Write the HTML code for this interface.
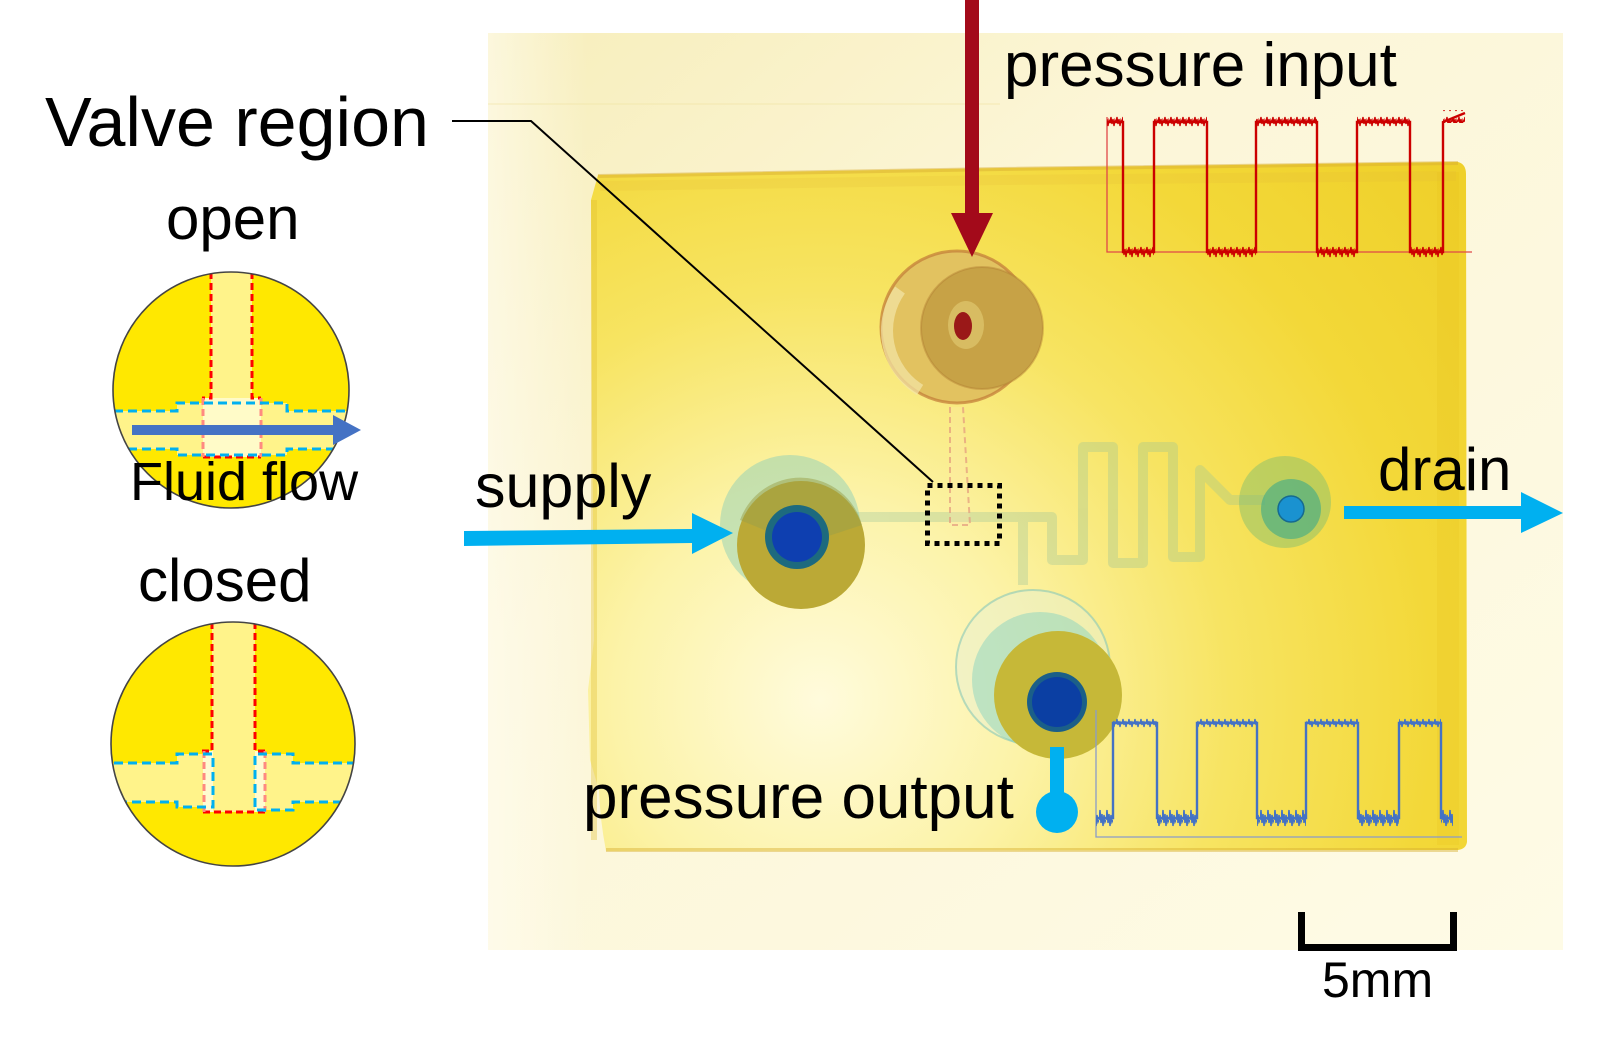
<!DOCTYPE html>
<html>
<head>
<meta charset="utf-8">
<style>
  html,body{margin:0;padding:0;background:#fff;}
  svg{display:block;}
  text{font-family:"Liberation Sans", "DejaVu Sans", sans-serif; fill:#000;}
</style>
</head>
<body>
<svg width="1606" height="1045" viewBox="0 0 1606 1045" xmlns="http://www.w3.org/2000/svg">
  <defs>
    <linearGradient id="bg" x1="0" y1="0" x2="1" y2="1">
      <stop offset="0" stop-color="#f7eebb"/>
      <stop offset="0.35" stop-color="#fcf6d8"/>
      <stop offset="1" stop-color="#fefbe6"/>
    </linearGradient>
    <linearGradient id="bgl" x1="0" y1="0" x2="1" y2="0">
      <stop offset="0" stop-color="#fffdf3" stop-opacity="0.6"/>
      <stop offset="1" stop-color="#fffdf3" stop-opacity="0"/>
    </linearGradient>
    <radialGradient id="chip" cx="820" cy="700" r="820" gradientUnits="userSpaceOnUse">
      <stop offset="0" stop-color="#fffbdc"/>
      <stop offset="0.25" stop-color="#fcf3a8"/>
      <stop offset="0.5" stop-color="#f7e462"/>
      <stop offset="0.75" stop-color="#f3d838"/>
      <stop offset="1" stop-color="#efd02a"/>
    </radialGradient>
    <clipPath id="c1"><circle cx="231" cy="390" r="118"/></clipPath>
    <clipPath id="c2"><circle cx="233" cy="744" r="122"/></clipPath>
    <pattern id="nbL" x="0" y="806" width="7" height="22" patternUnits="userSpaceOnUse">
      <polyline points="0,14 1,4 2,17 3,8 4,20 5,9 6,16 7,14" fill="none" stroke="#4472c4" stroke-width="1.5"/>
    </pattern>
    <pattern id="nbH" x="0" y="716" width="6" height="14" patternUnits="userSpaceOnUse">
      <polyline points="0,7 1,3 2,9 3,5 4,11 5,6 6,7" fill="none" stroke="#4472c4" stroke-width="1.3"/>
    </pattern>
    <pattern id="nrH" x="0" y="114" width="6" height="15" patternUnits="userSpaceOnUse">
      <polyline points="0,8 1,3 2,10 3,5 4,12 5,6 6,8" fill="none" stroke="#cc0000" stroke-width="1.3"/>
    </pattern>
    <pattern id="nrL" x="0" y="245" width="6" height="14" patternUnits="userSpaceOnUse">
      <polyline points="0,7 1,2 2,10 3,4 4,12 5,5 6,7" fill="none" stroke="#cc0000" stroke-width="1.3"/>
    </pattern>
  </defs>

  <!-- ============ LEFT PANEL ============ -->
  <text x="45" y="146" font-size="70">Valve region</text>

  <text x="166" y="239" font-size="60">open</text>

  <!-- open circle -->
  <circle cx="231" cy="390" r="118" fill="#ffe800"/>
  <g clip-path="url(#c1)">
    <rect x="211" y="260" width="41" height="140" fill="#fff38a"/>
    <polygon points="100,411 177,411 177,403 287,403 287,411 360,411 360,449 287,449 287,455 177,455 177,449 100,449" fill="#fff38a"/>
    <rect x="203" y="398" width="58" height="59" fill="#fffbc8"/>
    <path d="M211 272 V398 H202 M252 272 V398 H261" fill="none" stroke="#ff0000" stroke-width="3" stroke-dasharray="7 4"/>
    <path d="M203 457 H261" fill="none" stroke="#ff0000" stroke-width="3" stroke-dasharray="7 4"/>
    <path d="M203 398 V457 M261 398 V457" fill="none" stroke="#ff8a80" stroke-width="3" stroke-dasharray="7 4"/>
    <path d="M100 411 H177 V403 H287 V411 H360 M100 449 H177 V455 H287 V449 H360" fill="none" stroke="#00b0f0" stroke-width="3" stroke-dasharray="9 5"/>
  </g>
  <circle cx="231" cy="390" r="118" fill="none" stroke="#444" stroke-width="1.6"/>
  <rect x="132" y="425" width="202" height="10" fill="#4472c4"/>
  <polygon points="333,415 361,430 333,445" fill="#4472c4"/>
  <text x="130" y="500" font-size="54">Fluid flow</text>

  <text x="138" y="601" font-size="60">closed</text>

  <!-- closed circle -->
  <circle cx="233" cy="744" r="122" fill="#ffe800"/>
  <g clip-path="url(#c2)">
    <rect x="212" y="610" width="43" height="202" fill="#fff38a"/>
    <polygon points="100,763 177,763 177,754 213,754 213,807 177,807 177,802 100,802" fill="#fff38a"/>
    <polygon points="255,754 293,754 293,763 370,763 370,802 293,802 293,810 255,810" fill="#fff38a"/>
    <rect x="203" y="751" width="10" height="61" fill="#fffbd0"/>
    <rect x="255" y="751" width="10" height="61" fill="#fffbd0"/>
    <path d="M212 622 V751 H202 M255 622 V751 H265" fill="none" stroke="#ff0000" stroke-width="3" stroke-dasharray="7 4"/>
    <path d="M203 812 H265" fill="none" stroke="#ff0000" stroke-width="3" stroke-dasharray="7 4"/>
    <path d="M204 751 V812 M265 751 V812" fill="none" stroke="#ff8a80" stroke-width="3" stroke-dasharray="7 4"/>
    <path d="M100 763 H177 V754 H213 V807 H177 V802 H100" fill="none" stroke="#00b0f0" stroke-width="3" stroke-dasharray="9 5"/>
    <path d="M370 763 H293 V754 H255 V810 H293 V802 H370" fill="none" stroke="#00b0f0" stroke-width="3" stroke-dasharray="9 5"/>
  </g>
  <circle cx="233" cy="744" r="122" fill="none" stroke="#444" stroke-width="1.6"/>

  <!-- ============ PHOTO ============ -->
  <rect x="488" y="33" width="1075" height="917" fill="url(#bg)"/>
  <rect x="488" y="33" width="100" height="917" fill="url(#bgl)"/>
  <path d="M488 104 H1000" stroke="#efe2a0" stroke-width="1.5" opacity="0.4"/>

  <!-- chip -->
  <path d="M598 175 L1000 168 L1458 162 Q1466 164 1466 174 L1467 842 Q1466 849 1458 850 L606 851 Q600 820 599 790 L590 760 L588 690 L594 640 L592 420 L591 200 Z" fill="url(#chip)"/>
  <path d="M598 176 L1000 169 L1458 163" fill="none" stroke="#d6aa30" stroke-width="4" opacity="0.45"/>
  <path d="M600 186 L1000 180 L1456 176" fill="none" stroke="#e2b838" stroke-width="10" opacity="0.18"/>
  <path d="M1448 172 V845" fill="none" stroke="#e6bf1a" stroke-width="22" opacity="0.2"/>
  <path d="M606 850 H1458" fill="none" stroke="#d8b030" stroke-width="4" opacity="0.45"/>
  <path d="M594 200 V840" fill="none" stroke="#e0be30" stroke-width="6" opacity="0.35"/>

  <!-- channels -->
  <g fill="none" stroke="#8fbf9a" stroke-width="10" opacity="0.3" stroke-linejoin="round">
    <path d="M850 517 H1023 V585"/>
    <path d="M1023 517 H1052 V560 H1083 V447 H1113 V563 H1143 V447 H1173 V557 H1200 V470 L1230 500 H1265"/>
  </g>
  <path d="M950 407 V525 H970 L963 407" fill="#fbe4b0" fill-opacity="0.35" stroke="#e49a80" stroke-width="2" stroke-dasharray="6 4" opacity="0.7"/>

  <!-- pressure input port -->
  <circle cx="957" cy="327" r="76" fill="#e2c260" stroke="#c27a38" stroke-width="3" stroke-opacity="0.7"/>
  <path d="M900 290 A70 70 0 0 0 920 390" fill="none" stroke="#f4e6a8" stroke-width="12" opacity="0.7"/>
  <circle cx="982" cy="328" r="61" fill="#c7a246" stroke="#b07a30" stroke-width="2" stroke-opacity="0.4"/>
  <ellipse cx="966" cy="325" rx="18" ry="24" fill="#d8bc62"/>
  <ellipse cx="963" cy="326" rx="9" ry="14" fill="#9a1818"/>

  <!-- supply port -->
  <circle cx="790" cy="525" r="70" fill="#8fcfb8" fill-opacity="0.5"/>
  <circle cx="801" cy="545" r="64" fill="#bba936"/>
  <path d="M740 520 A64 64 0 0 1 862 525 L801 545 Z" fill="#9aa048" opacity="0.5"/>
  <circle cx="797" cy="537" r="32" fill="#1d6a7e"/>
  <circle cx="797" cy="537" r="25" fill="#0e3fb0"/>

  <!-- output port -->
  <circle cx="1033" cy="667" r="77" fill="#e8f0d0" fill-opacity="0.5" stroke="#88c8b8" stroke-width="2" stroke-opacity="0.6"/>
  <circle cx="1040" cy="680" r="68" fill="#7fd0c0" fill-opacity="0.45"/>
  <circle cx="1058" cy="695" r="64" fill="#c6b838"/>
  <circle cx="1057" cy="702" r="30" fill="#1b5f88"/>
  <circle cx="1057" cy="702" r="25" fill="#0b3fa3"/>

  <!-- drain port -->
  <circle cx="1285" cy="502" r="46" fill="#7cbc70" fill-opacity="0.45"/>
  <circle cx="1291" cy="509" r="30" fill="#3caa88" fill-opacity="0.6"/>
  <circle cx="1291" cy="509" r="13" fill="#1a92d0" stroke="#156a90" stroke-width="1.5"/>

  <!-- leader line (on top of photo) -->
  <path d="M452 121 H531 L933 482" fill="none" stroke="#000" stroke-width="2"/>

  <!-- dotted valve box -->
  <rect x="927.5" y="485.5" width="72" height="58" fill="none" stroke="#000" stroke-width="5" stroke-dasharray="5 5"/>

  <!-- red pressure input arrow -->
  <rect x="965" y="0" width="14" height="214" fill="#a30a1a"/>
  <polygon points="951,213 993,213 972,257" fill="#a30a1a"/>

  <!-- supply arrow -->
  <polygon points="464,531 692,529 692,543 464,546" fill="#00b0f0"/>
  <polygon points="692,513 733,533 692,554" fill="#00b0f0"/>

  <!-- drain arrow -->
  <rect x="1344" y="506" width="178" height="13" fill="#00b0f0"/>
  <polygon points="1521,492 1563,513 1521,533" fill="#00b0f0"/>

  <!-- pressure output marker -->
  <rect x="1050" y="747" width="14" height="58" fill="#00b0f0"/>
  <circle cx="1057" cy="812" r="21" fill="#00b0f0"/>

  <!-- red plot -->
  <path d="M1107 117 V252 H1472" fill="none" stroke="#e04848" stroke-width="1.3"/>
  <g fill="url(#nrH)">
    <rect x="1107" y="115" width="16" height="13"/>
    <rect x="1154" y="115" width="53" height="13"/>
    <rect x="1256" y="115" width="61" height="13"/>
    <rect x="1357" y="115" width="53" height="13"/>
    <rect x="1443" y="110" width="22" height="13"/>
  </g>
  <g fill="url(#nrL)">
    <rect x="1123" y="246" width="31" height="12"/>
    <rect x="1207" y="246" width="49" height="12"/>
    <rect x="1317" y="246" width="40" height="12"/>
    <rect x="1410" y="246" width="33" height="12"/>
  </g>
  <path d="M1107 122 H1123 V252 H1154 V122 H1207 V252 H1256 V122 H1317 V252 H1357 V122 H1410 V252 H1443 V122 L1465 113" fill="none" stroke="#cc0000" stroke-width="2.4"/>

  <!-- blue plot -->
  <path d="M1096 710 V837 H1462" fill="none" stroke="#8a9cc8" stroke-width="1.3"/>
  <g fill="url(#nbH)">
    <rect x="1113" y="717" width="44" height="12"/>
    <rect x="1197" y="717" width="60" height="12"/>
    <rect x="1306" y="717" width="52" height="12"/>
    <rect x="1399" y="717" width="42" height="12"/>
  </g>
  <g fill="url(#nbL)">
    <rect x="1096" y="807" width="17" height="21"/>
    <rect x="1157" y="807" width="40" height="21"/>
    <rect x="1257" y="807" width="49" height="21"/>
    <rect x="1358" y="807" width="41" height="21"/>
    <rect x="1441" y="807" width="12" height="21"/>
  </g>
  <path d="M1096 818 H1113 V723 H1157 V818 H1197 V723 H1257 V818 H1306 V723 H1358 V818 H1399 V723 H1441 V818 H1453" fill="none" stroke="#4472c4" stroke-width="2.4"/>

  <!-- scale bar -->
  <path d="M1301.5 912 V947.5 H1453.5 V912" fill="none" stroke="#000" stroke-width="7"/>
  <text x="1322" y="997" font-size="50">5mm</text>

  <!-- labels -->
  <text x="1004" y="86" font-size="62">pressure input</text>
  <text x="475" y="507" font-size="61">supply</text>
  <text x="1378" y="490" font-size="60">drain</text>
  <text x="583" y="818" font-size="62">pressure output</text>
</svg>
</body>
</html>
